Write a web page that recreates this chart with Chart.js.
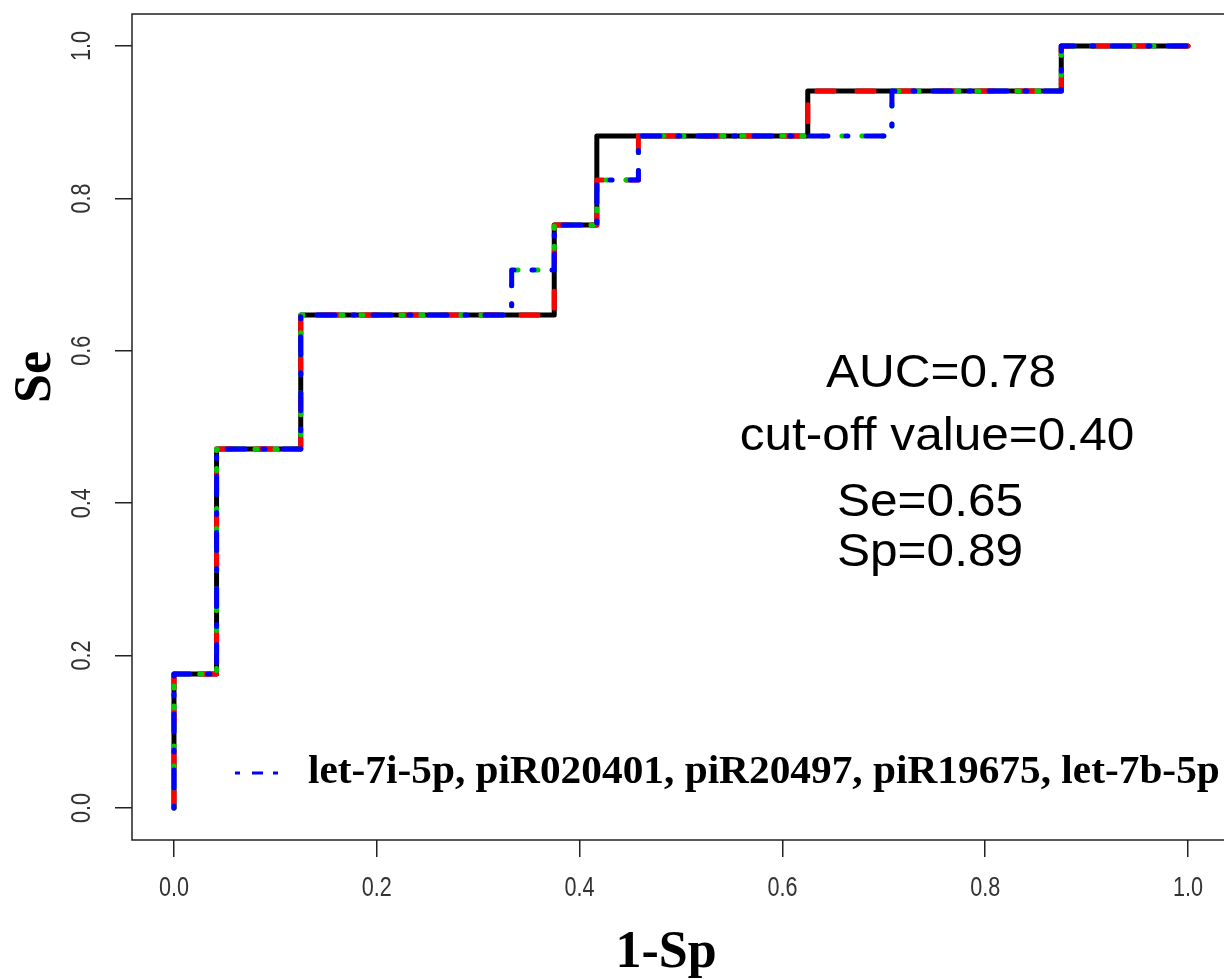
<!DOCTYPE html>
<html>
<head>
<meta charset="utf-8">
<script src="https://cdn.jsdelivr.net/npm/chart.js@4.4.1/dist/chart.umd.min.js"></script>
<style>
  html, body { margin: 0; padding: 0; background: #fff; overflow: hidden; }
  #wrap { width: 1240px; height: 980px; }
</style>
</head>
<body>
<div id="wrap"><canvas id="roc" width="1240" height="980"></canvas></div>
<script>
// ROC curves (1-Sp on x, Se on y)
const blackX = [0, 0, 0.042, 0.042, 0.125, 0.125, 0.375, 0.375, 0.417, 0.417, 0.625, 0.625, 0.875, 0.875, 1];
const blackY = [0, 0.176, 0.176, 0.471, 0.471, 0.647, 0.647, 0.765, 0.765, 0.882, 0.882, 0.941, 0.941, 1, 1];

const redX = [0, 0, 0.042, 0.042, 0.125, 0.125, 0.375, 0.375, 0.417, 0.417, 0.458, 0.458, 0.625, 0.625, 0.875, 0.875, 1];
const redY = [0, 0.176, 0.176, 0.471, 0.471, 0.647, 0.647, 0.765, 0.765, 0.824, 0.824, 0.882, 0.882, 0.941, 0.941, 1, 1];

const greenX = [0, 0, 0.042, 0.042, 0.125, 0.125, 0.333, 0.333, 0.375, 0.375, 0.417, 0.417, 0.458, 0.458, 0.708, 0.708, 0.875, 0.875, 1];
const greenY = [0, 0.176, 0.176, 0.471, 0.471, 0.647, 0.647, 0.706, 0.706, 0.765, 0.765, 0.824, 0.824, 0.882, 0.882, 0.941, 0.941, 1, 1];

const blueX = [0, 0, 0.042, 0.042, 0.125, 0.125, 0.333, 0.333, 0.375, 0.375, 0.417, 0.417, 0.458, 0.458, 0.708, 0.708, 0.875, 0.875, 1];
const blueY = [0, 0.176, 0.176, 0.471, 0.471, 0.647, 0.647, 0.706, 0.706, 0.765, 0.765, 0.824, 0.824, 0.882, 0.882, 0.941, 0.941, 1, 1];

const xTicks = [0, 0.2, 0.4, 0.6, 0.8, 1.0];
const yTicks = [0, 0.2, 0.4, 0.6, 0.8, 1.0];

const legendLabel = "let-7i-5p, piR020401, piR20497, piR19675, let-7b-5p";
const statLines = ["AUC=0.78", "cut-off value=0.40", "Se=0.65", "Sp=0.89"];

const tickFont = '27px "Liberation Sans", Arial, sans-serif';

function toPoints(xs, ys) {
    return xs.map((x, i) => ({ x: x, y: ys[i] }));
}

function rocSet(xs, ys, color, dash, order) {
    return {
        data: toPoints(xs, ys),
        borderColor: color,
        borderWidth: 5,
        borderDash: dash,
        borderCapStyle: "round",
        borderJoinStyle: "round",
        pointRadius: 0,
        fill: false,
        tension: 0,
        order: order
    };
}

// narrow text: the tick labels in the picture are squeezed, the rest a bit wide
function stretchText(ctx, text, x, y, sx, rot) {
    ctx.save();
    ctx.translate(x, y);
    if (rot) ctx.rotate(rot);
    ctx.scale(sx, 1);
    ctx.fillText(text, 0, 0);
    ctx.restore();
}

// box, tick labels, axis titles, legend and the stats text
const extras = {
    id: "extras",
    afterDraw(chart) {
        const ctx = chart.ctx;
        const area = chart.chartArea;
        const xs = chart.scales.x;
        const ys = chart.scales.y;
        ctx.save();

        ctx.strokeStyle = "#222";
        ctx.lineWidth = 1.5;
        ctx.strokeRect(area.left, area.top, area.right - area.left, area.bottom - area.top);

        // tick labels
        ctx.fillStyle = "#333";
        ctx.font = tickFont;
        ctx.textAlign = "center";
        ctx.textBaseline = "middle";
        xTicks.forEach(v => {
            stretchText(ctx, v.toFixed(1), xs.getPixelForValue(v), 889, 0.8, 0);
        });
        yTicks.forEach(v => {
            stretchText(ctx, v.toFixed(1), 83, ys.getPixelForValue(v), 0.8, -Math.PI / 2);
        });

        // axis titles
        ctx.fillStyle = "#000";
        ctx.font = 'bold 52px "Liberation Serif", "Times New Roman", serif';
        ctx.textBaseline = "alphabetic";
        ctx.fillText("1-Sp", 666, 967);
        ctx.save();
        ctx.translate(50, 377);
        ctx.rotate(-Math.PI / 2);
        ctx.fillText("Se", 0, 0);
        ctx.restore();

        // stats text
        ctx.font = '47px "Liberation Sans", Arial, sans-serif';
        ctx.textBaseline = "middle";
        const statX = [941, 937, 930, 930];
        const statY = [0.57, 0.487, 0.40, 0.334];
        statLines.forEach((t, i) => {
            stretchText(ctx, t, statX[i], ys.getPixelForValue(statY[i]), 1.055, 0);
        });

        // legend (bty = "n"), uses the blue dataset's colour
        const blue = chart.data.datasets[3];
        ctx.strokeStyle = blue.borderColor;
        ctx.lineWidth = 3;
        ctx.setLineDash([5, 12, 11, 10]);
        ctx.beginPath();
        ctx.moveTo(235, 773);
        ctx.lineTo(278, 773);
        ctx.stroke();
        ctx.setLineDash([]);
        ctx.fillStyle = "#000";
        ctx.font = 'bold 39px "Liberation Serif", "Times New Roman", serif';
        ctx.textAlign = "left";
        stretchText(ctx, legendLabel, 308, 773, 1.06, 0);

        ctx.restore();
    }
};

const gridOpts = {
    drawOnChartArea: false,
    drawTicks: true,
    tickLength: 17,
    color: "#222",
    lineWidth: 1.5
};

new Chart(document.getElementById("roc"), {
    type: "line",
    data: {
        datasets: [
            rocSet(blackX, blackY, "#000000", [], 4),
            rocSet(redX, redY, "#ff0000", [17, 23], 3),
            rocSet(greenX, greenY, "#00cd00", [2, 18], 2),
            rocSet(blueX, blueY, "#0000ff", [2, 18, 18, 18], 1)
        ]
    },
    options: {
        responsive: false,
        animation: false,
        devicePixelRatio: 1,
        layout: { padding: { top: 14, right: 10, left: 0, bottom: 0 } },
        plugins: {
            legend: { display: false },
            tooltip: { enabled: false }
        },
        scales: {
            x: {
                type: "linear",
                min: -0.0414,
                max: 1.0414,
                afterBuildTicks: s => { s.ticks = xTicks.map(v => ({ value: v })); },
                afterFit: s => { s.height = 140; },
                border: { display: false },
                grid: gridOpts,
                ticks: { display: false }
            },
            y: {
                type: "linear",
                min: -0.042,
                max: 1.042,
                afterBuildTicks: s => { s.ticks = yTicks.map(v => ({ value: v })); },
                afterFit: s => { s.width = 132; },
                border: { display: false },
                grid: gridOpts,
                ticks: { display: false }
            }
        }
    },
    plugins: [extras]
});
</script>
</body>
</html>
